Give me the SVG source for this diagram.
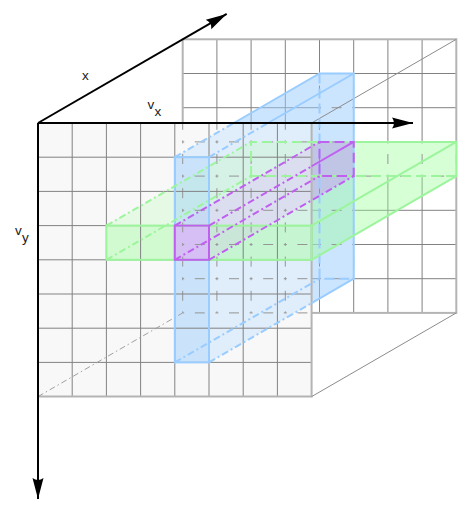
<svg xmlns="http://www.w3.org/2000/svg" width="476" height="510" viewBox="0 0 476 510">
<style>
.grid{fill:none;stroke:#828282;stroke-width:1}
.border{fill:none;stroke:#b4b4b4;stroke-width:2}
.dgrid{fill:none;stroke:#959595;stroke-width:1;stroke-dasharray:3 10.6 10 10.6;stroke-dashoffset:1.5}
.edge{fill:none;stroke:#8c8c8c;stroke-width:1}
.hidden{fill:none;stroke:#a0a0a0;stroke-width:1;stroke-dasharray:6 3 1.5 3}
.axis{fill:none;stroke:#000;stroke-width:2}
.b{stroke:#99ccff}
.g{stroke:#9cf59c}
.p{stroke:#c060f0}
.solid{fill:none;stroke-width:2}
.diag{fill:none;stroke-width:2;stroke-dasharray:7 3 2 3}
.back{fill:none;stroke-width:2;stroke-dasharray:10 5}
.lbl{font-family:"Liberation Sans",Arial,sans-serif;font-size:13.5px;fill:#222}
</style>
<defs>
<marker id="arr" markerUnits="userSpaceOnUse" markerWidth="24" markerHeight="14" viewBox="-22 -7 24 14" refX="0" refY="0" orient="auto">
<path d="M0,0 L-21,-5.5 Q-17,0 -21,5.5 Z" fill="#000"/>
</marker>
<mask id="mSolid" maskUnits="userSpaceOnUse" x="0" y="0" width="476" height="510">
<rect width="476" height="510" fill="#fff"/>
<rect x="318.5" y="72.5" width="36.2" height="207.2" fill="#000"/>
<rect x="250.1" y="140.9" width="207.2" height="36.2" fill="#000"/>
</mask>
<clipPath id="cDash">
<rect x="38" y="123" width="273.6" height="273.6"/>
<rect x="318.5" y="72.5" width="36.2" height="207.2"/>
<rect x="250.1" y="140.9" width="207.2" height="36.2"/>
</clipPath>
</defs>

<g id="back-face" mask="url(#mSolid)">
<path class="grid" d="M216.9,39.3V312.9M251.1,39.3V312.9M285.3,39.3V312.9M319.5,39.3V312.9M353.7,39.3V312.9M387.9,39.3V312.9M422.1,39.3V312.9M182.7,73.5H456.3M182.7,107.7H456.3M182.7,141.9H456.3M182.7,176.1H456.3M182.7,210.3H456.3M182.7,244.5H456.3M182.7,278.7H456.3"/>
<rect class="border" x="182.7" y="39.3" width="273.6" height="273.6"/>
</g>

<g id="front-face-base">
<rect x="38" y="123" width="273.6" height="273.6" fill="#f8f8f8"/>
</g>

<g id="boxes-volume">
<path d="M174.8,157.2L319.5,73.5L353.7,73.5L353.7,278.7L209,362.4L174.8,362.4Z" fill="#99ccff" fill-opacity="0.5"/>
<path d="M106.4,225.6L251.1,141.9L456.3,141.9L456.3,176.1L311.6,259.8L106.4,259.8Z" fill="#99ff99" fill-opacity="0.4"/>
<path d="M174.8,225.6L319.5,141.9L353.7,141.9L353.7,176.1L209,259.8L174.8,259.8Z" fill="#cc88ff" fill-opacity="0.4"/>
</g>

<g id="front-face-veil">
<rect x="38" y="123" width="273.6" height="273.6" fill="#f8f8f8" fill-opacity="0.5"/>
</g>

<g id="front-faces">
<path d="M174.8,157.2H209V225.6H174.8ZM174.8,259.8H209V362.4H174.8Z" fill="#99ccff" fill-opacity="0.3"/>
<path d="M106.4,225.6H174.8V259.8H106.4ZM209,225.6H311.6V259.8H209Z" fill="#99ff99" fill-opacity="0.25"/>
<rect x="174.8" y="225.6" width="34.2" height="34.2" fill="#cc88ff" fill-opacity="0.35"/>
</g>

<g id="hidden-back-grid" clip-path="url(#cDash)">
<path class="dgrid" d="M182.7,39.3V312.9M216.9,39.3V312.9M251.1,39.3V312.9M285.3,39.3V312.9M319.5,39.3V312.9M353.7,39.3V312.9M387.9,39.3V312.9M422.1,39.3V312.9M456.3,39.3V312.9M182.7,39.3H456.3M182.7,73.5H456.3M182.7,107.7H456.3M182.7,141.9H456.3M182.7,176.1H456.3M182.7,210.3H456.3M182.7,244.5H456.3M182.7,278.7H456.3M182.7,312.9H456.3"/>
</g>

<g id="front-grid">
<path class="grid" d="M72.2,123V396.6M106.4,123V396.6M140.6,123V396.6M174.8,123V396.6M209,123V396.6M243.2,123V396.6M277.4,123V396.6M38,157.2H311.6M38,191.4H311.6M38,225.6H311.6M38,259.8H311.6M38,294H311.6M38,328.2H311.6M38,362.4H311.6"/>
<path class="border" d="M38,396.6H311.6V123"/>
</g>

<g id="connectors">
<path class="edge" d="M311.6,123L456.3,39.3M311.6,396.6L456.3,312.9"/>
<path class="hidden" d="M38,396.6L182.7,312.9"/>
</g>

<g id="blue-box">
<path class="diag b" d="M174.8,157.2L233.9,123M209,157.2L268.1,123M209,362.4L311.6,303.05M174.8,362.4L319.5,278.7"/>
<path class="back b" d="M319.5,73.5V278.7H353.7"/>
<path class="solid b" d="M233.9,123L319.5,73.5H353.7V278.7L311.6,303.05M268.1,123L353.7,73.5"/>
<rect class="solid b" x="174.8" y="157.2" width="34.2" height="205.2"/>
</g>

<g id="green-box">
<path class="diag g" d="M106.4,225.6L251.1,141.9M106.4,259.8L251.1,176.1"/>
<path class="back g" d="M251.1,176.1V141.9H353.7M251.1,176.1H456.3"/>
<path class="solid g" d="M353.7,141.9H456.3V176.1L311.6,259.8M311.6,225.6L456.3,141.9"/>
<rect class="solid g" x="106.4" y="225.6" width="205.2" height="34.2"/>
</g>

<g id="purple-box">
<path class="diag p" stroke-width="3" d="M174.8,225.6L319.5,141.9M209,225.6L311.6,166.25M174.8,259.8L319.5,176.1M209,259.8L353.7,176.1"/>
<path class="back p" stroke-width="3" d="M319.5,141.9H353.7V176.1H319.5Z"/>
<path class="solid p" stroke-width="3" d="M311.6,166.25L353.7,141.9"/>
<rect class="solid p" stroke-width="3" x="174.8" y="225.6" width="34.2" height="34.2"/>
</g>

<g id="axes">
<path class="axis" d="M38,123H413" marker-end="url(#arr)"/>
<path class="axis" d="M38,123V499" marker-end="url(#arr)"/>
<path class="axis" d="M38,123L226.7,13.9" marker-end="url(#arr)"/>
</g>

<g id="labels">
<text class="lbl" x="82" y="79.5">x</text>
<text class="lbl" x="147.5" y="108.5">v</text>
<text class="lbl" x="154.5" y="116">x</text>
<text class="lbl" x="15" y="234.5">v</text>
<text class="lbl" x="22" y="241.5">y</text>
</g>
</svg>
